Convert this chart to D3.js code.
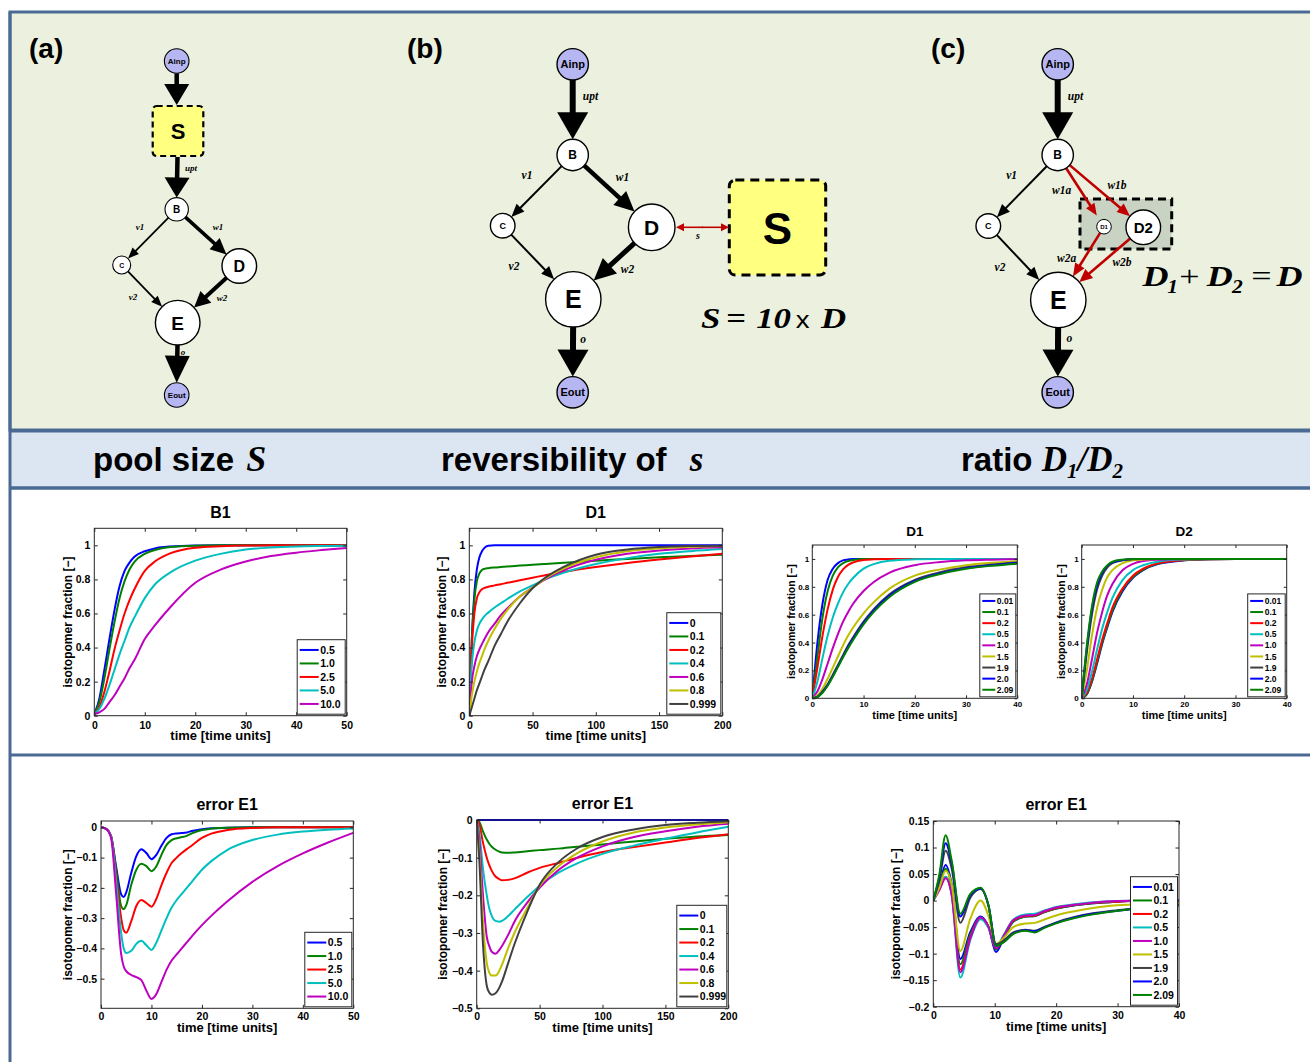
<!DOCTYPE html>
<html><head><meta charset="utf-8">
<script src="https://cdn.jsdelivr.net/npm/d3@7"></script>
<style>body{margin:0;background:#fff}svg{display:block}</style>
</head><body>
<svg id="fig" width="1310" height="1062"></svg>
<script>
// ================= DATA =================
const cBlue="#0000ff", cGreen="#008000", cRed="#ff0000", cCyan="#00bfbf", cMag="#bf00bf", cYel="#bfbf00", cGray="#404040";

// (a) pool size S : B1 labelling
const poolLabels=["0.5","1.0","2.5","5.0","10.0"];
const poolColors=[cBlue,cGreen,cRed,cCyan,cMag];
const b1Time=[0,1,2,3,4,5,6,7,8,10,12,15,20,25,30,35,40,45,50];
const b1_05=[0.01,0.1,0.27,0.45,0.62,0.76,0.85,0.9,0.935,0.965,0.982,0.993,0.999,1,1,1,1,1,1];
const b1_10=[0.01,0.08,0.22,0.39,0.55,0.69,0.79,0.86,0.905,0.95,0.973,0.99,0.998,1,1,1,1,1,1];
const b1_25=[0.01,0.05,0.14,0.26,0.39,0.5,0.6,0.68,0.745,0.85,0.905,0.953,0.986,0.995,0.999,1,1,1,1];
const b1_50=[0.01,0.04,0.1,0.18,0.27,0.36,0.44,0.52,0.58,0.69,0.77,0.84,0.91,0.95,0.975,0.987,0.993,0.996,0.998];
const b1_100=[0.01,0.02,0.04,0.08,0.12,0.17,0.22,0.28,0.33,0.45,0.53,0.635,0.78,0.857,0.905,0.937,0.957,0.972,0.985];

// (a) error E1
const e1aTime=[0,1,2,3,4,4.5,5,6,7,8,9,10,11,12,13,14,15,16,17,18,20,22,25,30,35,40,45,50];
const e1a_05=[0,-0.005,-0.03,-0.13,-0.222,-0.23,-0.215,-0.15,-0.095,-0.072,-0.085,-0.105,-0.09,-0.06,-0.035,-0.023,-0.02,-0.019,-0.017,-0.012,-0.006,-0.003,-0.001,0,0,0,0,0];
const e1a_10=[0,-0.005,-0.03,-0.14,-0.26,-0.27,-0.257,-0.19,-0.14,-0.12,-0.128,-0.145,-0.128,-0.09,-0.058,-0.042,-0.036,-0.032,-0.028,-0.02,-0.009,-0.004,-0.001,0,0,0,0,0];
const e1a_25=[0,-0.005,-0.03,-0.16,-0.3,-0.34,-0.348,-0.31,-0.26,-0.24,-0.25,-0.262,-0.235,-0.19,-0.15,-0.118,-0.1,-0.085,-0.072,-0.06,-0.035,-0.02,-0.009,-0.002,0,0,0,0];
const e1a_50=[0,-0.005,-0.03,-0.18,-0.35,-0.4,-0.415,-0.408,-0.385,-0.375,-0.39,-0.405,-0.38,-0.34,-0.3,-0.265,-0.24,-0.22,-0.2,-0.18,-0.14,-0.11,-0.075,-0.042,-0.024,-0.014,-0.008,-0.004];
const e1a_100=[0,-0.005,-0.035,-0.22,-0.42,-0.46,-0.475,-0.488,-0.495,-0.505,-0.54,-0.567,-0.55,-0.51,-0.47,-0.44,-0.42,-0.4,-0.38,-0.36,-0.323,-0.29,-0.245,-0.18,-0.128,-0.086,-0.05,-0.018];

// (b) reversibility of s
const revLabels=["0","0.1","0.2","0.4","0.6","0.8","0.999"];
const revColors=[cBlue,cGreen,cRed,cCyan,cMag,cYel,cGray];
const d1bTime=[0,2,4,6,8,10,12,15,20,25,30,40,50,60,75,100,125,150,175,200];
const d1b_0=[0,0.45,0.72,0.86,0.93,0.965,0.985,0.997,1,1,1,1,1,1,1,1,1,1,1,1];
const d1b_01=[0,0.45,0.68,0.79,0.835,0.855,0.862,0.866,0.87,0.873,0.876,0.881,0.886,0.891,0.898,0.91,0.92,0.93,0.938,0.945];
const d1b_02=[0,0.4,0.6,0.69,0.725,0.742,0.75,0.757,0.765,0.772,0.78,0.795,0.81,0.825,0.845,0.873,0.897,0.917,0.935,0.95];
const d1b_04=[0,0.3,0.43,0.5,0.54,0.565,0.585,0.605,0.635,0.66,0.685,0.73,0.765,0.8,0.84,0.89,0.925,0.95,0.966,0.978];
const d1b_06=[0,0.2,0.29,0.35,0.39,0.42,0.45,0.49,0.54,0.59,0.63,0.7,0.752,0.8,0.855,0.915,0.95,0.97,0.982,0.989];
const d1b_08=[0,0.12,0.2,0.26,0.31,0.35,0.39,0.44,0.51,0.57,0.62,0.7,0.75,0.805,0.865,0.93,0.965,0.982,0.991,0.996];
const d1b_0999=[0,0.05,0.1,0.15,0.19,0.23,0.27,0.32,0.41,0.48,0.55,0.66,0.748,0.81,0.875,0.945,0.975,0.99,0.996,0.998];

const e1bTime=[0,2,5,8,10,12,15,18,20,25,30,40,50,65,80,100,125,150,175,200];
const e1b_0=[0,0,0,0,0,0,0,0,0,0,0,0,0,0,0,0,0,0,0,0];
const e1b_01=[0,-0.005,-0.03,-0.052,-0.063,-0.071,-0.079,-0.084,-0.086,-0.087,-0.086,-0.083,-0.08,-0.076,-0.071,-0.065,-0.057,-0.05,-0.044,-0.04];
const e1b_02=[0,-0.01,-0.06,-0.1,-0.12,-0.135,-0.15,-0.157,-0.16,-0.159,-0.155,-0.14,-0.127,-0.114,-0.1,-0.085,-0.072,-0.06,-0.048,-0.038];
const e1b_04=[0,-0.03,-0.13,-0.2,-0.235,-0.255,-0.268,-0.27,-0.268,-0.255,-0.238,-0.205,-0.175,-0.14,-0.115,-0.09,-0.068,-0.05,-0.033,-0.018];
const e1b_06=[0,-0.05,-0.2,-0.31,-0.335,-0.35,-0.355,-0.345,-0.335,-0.305,-0.27,-0.22,-0.18,-0.133,-0.1,-0.07,-0.045,-0.03,-0.018,-0.01];
const e1b_08=[0,-0.08,-0.27,-0.38,-0.405,-0.413,-0.413,-0.4,-0.385,-0.34,-0.3,-0.235,-0.175,-0.123,-0.088,-0.057,-0.033,-0.02,-0.012,-0.006];
const e1b_0999=[0,-0.1,-0.33,-0.44,-0.458,-0.464,-0.46,-0.445,-0.43,-0.38,-0.33,-0.245,-0.172,-0.112,-0.075,-0.045,-0.025,-0.013,-0.007,-0.003];

// (c) ratio D1/D2
const ratioLabels=["0.01","0.1","0.2","0.5","1.0","1.5","1.9","2.0","2.09"];
const ratioColors=[cBlue,cGreen,cRed,cCyan,cMag,cYel,cGray,cBlue,cGreen];
const d1cTime=[0,1,2,3,4,5,6,7,8,10,12,15,20,25,30,35,40];
const d1c_001=[0,0.4,0.68,0.85,0.93,0.97,0.99,0.996,1,1,1,1,1,1,1,1,1];
const d1c_01=[0,0.3,0.58,0.77,0.88,0.94,0.97,0.985,0.993,1,1,1,1,1,1,1,1];
const d1c_02=[0,0.22,0.45,0.64,0.78,0.87,0.925,0.957,0.975,0.992,0.997,1,1,1,1,1,1];
const d1c_05=[0,0.12,0.29,0.45,0.58,0.68,0.76,0.82,0.865,0.93,0.963,0.987,0.997,1,1,1,1];
const d1c_10=[0,0.05,0.14,0.25,0.36,0.46,0.55,0.62,0.68,0.77,0.835,0.9,0.955,0.978,0.99,0.995,0.998];
const d1c_15=[0,0.02,0.07,0.14,0.22,0.3,0.38,0.45,0.51,0.61,0.69,0.785,0.88,0.925,0.955,0.972,0.984];
const d1c_19=[0,0.01,0.05,0.1,0.17,0.24,0.31,0.38,0.44,0.55,0.64,0.745,0.85,0.905,0.94,0.96,0.975];
const d1c_20=[0,0.01,0.045,0.095,0.16,0.23,0.3,0.37,0.43,0.54,0.63,0.735,0.842,0.898,0.934,0.955,0.97];
const d1c_209=[0,0.01,0.04,0.09,0.155,0.225,0.295,0.36,0.42,0.53,0.62,0.725,0.835,0.892,0.929,0.951,0.966];

const d2cTime=[0,1,2,3,4,5,6,8,10,12,15,20,25,30,40];
const d2c_001=[0,0.03,0.12,0.25,0.39,0.51,0.62,0.77,0.865,0.92,0.965,0.99,0.998,1,1];
const d2c_01=[0,0.03,0.125,0.26,0.4,0.52,0.63,0.78,0.87,0.924,0.967,0.991,0.998,1,1];
const d2c_02=[0,0.04,0.14,0.28,0.42,0.54,0.65,0.79,0.88,0.93,0.97,0.992,0.998,1,1];
const d2c_05=[0,0.06,0.19,0.35,0.5,0.62,0.72,0.85,0.92,0.955,0.982,0.996,1,1,1];
const d2c_10=[0,0.1,0.28,0.47,0.62,0.74,0.82,0.92,0.965,0.985,0.995,1,1,1,1];
const d2c_15=[0,0.2,0.45,0.65,0.78,0.87,0.92,0.97,0.99,0.996,1,1,1,1,1];
const d2c_19=[0,0.33,0.6,0.78,0.88,0.94,0.97,0.99,0.998,1,1,1,1,1,1];
const d2c_20=[0,0.36,0.64,0.81,0.9,0.95,0.975,0.993,1,1,1,1,1,1,1];
const d2c_209=[0,0.38,0.66,0.83,0.91,0.955,0.98,0.995,1,1,1,1,1,1,1];

const e1cTime=[0,1,2,3,4.4,6,7.7,9,10.2,11.5,13,15,16.5,18,20,23,26,30,35,40];
const e1c_001=[0,0.03,0.067,0.03,-0.11,-0.06,-0.03,-0.05,-0.097,-0.07,-0.04,-0.03,-0.029,-0.022,-0.015,-0.009,-0.005,-0.002,0,0];
const e1c_01=[0,0.028,0.06,0.025,-0.12,-0.065,-0.032,-0.05,-0.092,-0.068,-0.04,-0.03,-0.029,-0.022,-0.015,-0.009,-0.005,-0.002,0,0];
const e1c_02=[0,0.022,0.045,0.012,-0.13,-0.07,-0.033,-0.05,-0.09,-0.066,-0.038,-0.029,-0.028,-0.021,-0.014,-0.008,-0.004,-0.002,0,0];
const e1c_05=[0,0.022,0.045,0.01,-0.145,-0.075,-0.035,-0.052,-0.088,-0.064,-0.036,-0.026,-0.025,-0.019,-0.012,-0.007,-0.003,-0.001,0,0];
const e1c_10=[0,0.02,0.042,0.01,-0.135,-0.072,-0.032,-0.05,-0.09,-0.066,-0.037,-0.028,-0.027,-0.02,-0.013,-0.008,-0.004,-0.001,0,0];
const e1c_15=[0,0.025,0.056,0.03,-0.095,-0.035,0,-0.03,-0.082,-0.07,-0.05,-0.043,-0.042,-0.036,-0.028,-0.02,-0.014,-0.009,-0.006,-0.004];
const e1c_19=[0,0.04,0.094,0.06,-0.042,0.005,0.022,-0.01,-0.082,-0.075,-0.06,-0.055,-0.057,-0.05,-0.041,-0.031,-0.024,-0.018,-0.012,-0.008];
const e1c_20=[0,0.045,0.108,0.07,-0.03,0.01,0.023,-0.01,-0.085,-0.078,-0.062,-0.056,-0.058,-0.051,-0.042,-0.032,-0.025,-0.019,-0.013,-0.009];
const e1c_209=[0,0.05,0.123,0.075,-0.025,0.012,0.024,-0.01,-0.085,-0.078,-0.063,-0.057,-0.06,-0.052,-0.043,-0.033,-0.026,-0.019,-0.013,-0.009];

// tick values
const ticks50=[0,10,20,30,40,50], ticks200=[0,50,100,150,200], ticks40=[0,10,20,30,40];
const ticksFrac=[0,0.2,0.4,0.6,0.8,1];
const ticksErrA=[-0.5,-0.4,-0.3,-0.2,-0.1,0], ticksErrB=[-0.5,-0.4,-0.3,-0.2,-0.1,0];
const ticksErrC=[-0.2,-0.15,-0.1,-0.05,0,0.05,0.1,0.15];

// ================= DRAWING =================
const svg=d3.select("#fig");
const sans="'Liberation Sans', Arial, Helvetica, sans-serif";
const serif="'Liberation Serif', 'Times New Roman', serif";
const borderCol="#4a6a93";

// ---- background panels ----
svg.append("rect").attr("x",0).attr("y",0).attr("width",1310).attr("height",1062).attr("fill","#fff");
svg.append("rect").attr("x",10).attr("y",12).attr("width",1310).attr("height",418).attr("fill","#ebf1de").attr("stroke",borderCol).attr("stroke-width",3);
svg.append("rect").attr("x",10).attr("y",431).attr("width",1310).attr("height",57).attr("fill","#dce6f2");
svg.append("line").attr("x1",10).attr("x2",1310).attr("y1",431).attr("y2",431).attr("stroke",borderCol).attr("stroke-width",3);
svg.append("line").attr("x1",10).attr("x2",1310).attr("y1",488).attr("y2",488).attr("stroke",borderCol).attr("stroke-width",3.5);
svg.append("line").attr("x1",10).attr("x2",1310).attr("y1",755).attr("y2",755).attr("stroke",borderCol).attr("stroke-width",3);
svg.append("line").attr("x1",10).attr("x2",10).attr("y1",12).attr("y2",1062).attr("stroke",borderCol).attr("stroke-width",3);

// ---- header ----
function header(x,parts){
  const t=svg.append("text").attr("x",x).attr("y",471).attr("fill","#000");
  parts.forEach(p=>{
    const s=t.append("tspan").text(p.t).attr("font-family",p.serif?serif:sans).attr("font-weight","bold")
      .attr("font-style",p.serif?"italic":"normal").attr("font-size",p.fs||33);
    if(p.dy) s.attr("dy",p.dy);
    if(p.dx) s.attr("dx",p.dx);
  });
}
header(93,[{t:"pool size "},{t:"S",serif:true,fs:36,dx:3}]);
header(441,[{t:"reversibility of "},{t:"s",serif:true,fs:35,dx:14}]);
header(961,[{t:"ratio "},{t:"D",serif:true,fs:35},{t:"1",serif:true,fs:21,dy:7},{t:"/",serif:true,fs:35,dy:-7},{t:"D",serif:true,fs:35},{t:"2",serif:true,fs:21,dy:7}]);

// ---- diagrams ----
const dg=svg.append("g");
function panelLabel(x,t){dg.append("text").attr("x",x).attr("y",58).attr("font-family",sans).attr("font-weight","bold").attr("font-size",28).text(t);}
panelLabel(29,"(a)");panelLabel(407,"(b)");panelLabel(931,"(c)");

function node(n){
  dg.append("circle").attr("cx",n.x).attr("cy",n.y).attr("r",n.r).attr("fill",n.fill||"#fff").attr("stroke","#000").attr("stroke-width",n.sw||1.4);
  dg.append("text").attr("x",n.x).attr("y",n.y).attr("dy","0.36em").attr("text-anchor","middle").attr("font-family",sans)
    .attr("font-weight","bold").attr("font-size",n.fs).text(n.label);
}
function arrowPts(x1,y1,x2,y2,sw,hl,hw,col){
  const dx=x2-x1,dy=y2-y1,L=Math.hypot(dx,dy),ux=dx/L,uy=dy/L;
  const bx=x2-ux*hl,by=y2-uy*hl,nx=-uy,ny=ux;
  dg.append("line").attr("x1",x1).attr("y1",y1).attr("x2",bx+ux*1.5).attr("y2",by+uy*1.5).attr("stroke",col).attr("stroke-width",sw);
  dg.append("path").attr("d",`M${x2},${y2}L${bx+nx*hw/2},${by+ny*hw/2}L${bx-nx*hw/2},${by-ny*hw/2}Z`).attr("fill",col);
}
function edge(a,b,sw,hl,hw,col,g0,g1){
  const dx=b.x-a.x,dy=b.y-a.y,L=Math.hypot(dx,dy),ux=dx/L,uy=dy/L;
  const s0=a.r+(g0||0), s1=b.r+(g1||0);
  arrowPts(a.x+ux*s0,a.y+uy*s0,b.x-ux*s1,b.y-uy*s1,sw,hl,hw,col||"#000");
}
function elabel(x,y,t,fs){dg.append("text").attr("x",x).attr("y",y).attr("dy","0.35em").attr("text-anchor","middle").attr("font-family",serif)
  .attr("font-weight","bold").attr("font-style","italic").attr("font-size",fs).text(t);}
// equation pieces, in a horizontally stretched frame
function eqn(x0,y0,pieces){
  const g=dg.append("g").attr("transform",`translate(${x0},${y0}) scale(1.2,1)`);
  pieces.forEach(p=>{
    g.append("text").attr("x",p.x).attr("y",p.dy||0).attr("font-family",p.sans?sans:serif)
      .attr("font-weight",p.w||"bold").attr("font-style",p.it?"italic":"normal").attr("font-size",p.fs).text(p.t);
  });
}
const lav="#b6b6f2", yel="#ffff80";

// panel (a)
{
  const Ainp={x:176.7,y:61,r:12.3,fill:lav,label:"Ainp",fs:8,sw:1.1};
  const B={x:176.7,y:209.3,r:11.7,label:"B",fs:10,sw:1.1};
  const C={x:121.7,y:265,r:9,label:"C",fs:7,sw:1.1};
  const D={x:239.3,y:266,r:17.3,label:"D",fs:16};
  const E={x:177.7,y:322.7,r:22.3,label:"E",fs:19};
  const Eout={x:176.7,y:395,r:12.3,fill:lav,label:"Eout",fs:8,sw:1.1};
  dg.append("rect").attr("x",152.7).attr("y",106).attr("width",50.6).attr("height",50).attr("rx",4).attr("fill",yel)
    .attr("stroke","#000").attr("stroke-width",2.2).attr("stroke-dasharray","6,4");
  dg.append("text").attr("x",178).attr("y",131).attr("dy","0.36em").attr("text-anchor","middle").attr("font-family",sans).attr("font-weight","bold").attr("font-size",22).text("S");
  arrowPts(176.7,73.3,176.7,105,4.5,21,25,"#000");
  arrowPts(177.5,157,176.7,197.6,4.5,20,25,"#000");
  edge(B,C,1.8,11,9);
  edge(B,D,3.5,16,15);
  edge(C,E,1.8,11,9);
  edge(D,E,4,16,16);
  arrowPts(177.5,345,176.7,382.7,4.5,27,25,"#000");
  [Ainp,B,C,D,E,Eout].forEach(node);
  elabel(191,168,"upt",9);elabel(140,227,"v1",9);elabel(218,227,"w1",9);elabel(133,297,"v2",9);elabel(222,298,"w2",9);elabel(183,352,"o",9);
}
// panel (b)
{
  const Ainp={x:572.7,y:64.3,r:15.7,fill:lav,label:"Ainp",fs:11};
  const B={x:572.7,y:155,r:15.7,label:"B",fs:12};
  const C={x:502.7,y:225.7,r:12.3,label:"C",fs:9};
  const D={x:651.7,y:227.3,r:23.3,label:"D",fs:21};
  const E={x:573.3,y:299.3,r:27.7,label:"E",fs:25};
  const Eout={x:572.7,y:392.3,r:15.7,fill:lav,label:"Eout",fs:11};
  dg.append("rect").attr("x",729.3).attr("y",180).attr("width",96.4).attr("height",95).attr("rx",6).attr("fill",yel)
    .attr("stroke","#000").attr("stroke-width",3).attr("stroke-dasharray","9,6");
  dg.append("text").attr("x",777.5).attr("y",228).attr("dy","0.36em").attr("text-anchor","middle").attr("font-family",sans).attr("font-weight","bold").attr("font-size",44).text("S");
  edge(Ainp,B,6,27,31);
  edge(B,C,2,13,11);
  edge(B,D,4.5,20,19);
  edge(C,E,2,13,11);
  edge(D,E,5,22,21);
  edge(E,Eout,6,27,31);
  arrowPts(702,227.3,729,227.3,1.6,8,8,"#c00000");
  arrowPts(703,227.3,676,227.3,1.6,8,8,"#c00000");
  [Ainp,B,C,D,E,Eout].forEach(node);
  elabel(590.5,96,"upt",11.5);elabel(527,175,"v1",11.5);elabel(622.5,176.7,"w1",11.5);elabel(514,266,"v2",11.5);elabel(627.5,269,"w2",11.5);elabel(583,339,"o",11.5);elabel(698,235,"s",10);
  eqn(701,328,[
    {t:"S",x:0,fs:29,it:true},
    {t:"=",x:21,fs:29},
    {t:"10",x:46,fs:29,it:true},
    {t:"x",x:79,fs:23,sans:true,w:"normal"},
    {t:"D",x:100,fs:29,it:true}
  ]);
}
// panel (c)
{
  const Ainp={x:1057.7,y:64.3,r:15.7,fill:lav,label:"Ainp",fs:11};
  const B={x:1057.7,y:155,r:15.7,label:"B",fs:12};
  const C={x:988.3,y:226,r:12.3,label:"C",fs:9};
  const D1={x:1104,y:226.7,r:7.3,label:"D1",fs:6,sw:1};
  const D2={x:1143.3,y:227.3,r:17.3,label:"D2",fs:15};
  const E={x:1058.3,y:300,r:27.7,label:"E",fs:25};
  const Eout={x:1057.7,y:392.3,r:15.7,fill:lav,label:"Eout",fs:11};
  dg.append("rect").attr("x",1080).attr("y",199).attr("width",91.7).attr("height",50).attr("fill","#c9d3c3")
    .attr("stroke","#000").attr("stroke-width",3).attr("stroke-dasharray","8,5");
  edge(Ainp,B,6,27,31);
  edge(B,C,2,13,11);
  edge(C,E,2,13,11);
  edge(E,Eout,6,27,31);
  const red="#c00000";
  edge(B,D1,2.6,12,10,red,0,6);
  edge(B,D2,2.6,13,11,red,0,0);
  edge(D1,E,2.6,13,11,red,0,0);
  edge(D2,E,2.6,13,12,red,0,0);
  [Ainp,B,C,D1,D2,E,Eout].forEach(node);
  elabel(1075.5,96,"upt",11.5);elabel(1011.7,175,"v1",11.5);elabel(1061.7,190,"w1a",11.5);elabel(1117,185,"w1b",11.5);
  elabel(1000,266.7,"v2",11.5);elabel(1066.7,258.3,"w2a",11.5);elabel(1122,262.3,"w2b",11.5);elabel(1069.3,338,"o",11.5);
  eqn(1142,286,[
    {t:"D",x:0.5,fs:30,it:true},
    {t:"1",x:21,fs:18,it:true,dy:7},
    {t:"+",x:31,fs:30,w:"normal"},
    {t:"D",x:54,fs:30,it:true},
    {t:"2",x:75,fs:18,it:true,dy:7},
    {t:"=",x:91,fs:30,w:"normal"},
    {t:"D",x:112,fs:30,it:true}
  ]);
}

// ---- charts ----
let clipN=0;
function drawChart(c){
  const g=svg.append("g");
  const x=d3.scaleLinear().domain(c.xDomain).range([c.L,c.R]);
  const y=d3.scaleLinear().domain(c.yDomain).range([c.B,c.T]);
  const cid="clip"+(clipN++);
  svg.append("defs").append("clipPath").attr("id",cid).append("rect").attr("x",c.L).attr("y",c.T-1).attr("width",c.R-c.L+(c.overX||0)).attr("height",c.B-c.T+2);
  g.append("rect").attr("x",c.L).attr("y",c.T).attr("width",c.R-c.L).attr("height",c.B-c.T).attr("fill","#fff");
  const line=d3.line().x((d,i)=>x(c.time[i])).y(d=>y(d)).curve(d3.curveMonotoneX);
  c.series.forEach(s=>{
    g.append("path").attr("d",line(s.values)).attr("fill","none").attr("stroke",s.color).attr("stroke-width",c.lw)
      .attr("stroke-linejoin","round").attr("clip-path",`url(#${cid})`);
  });
  const fmt=v=>{const s=(Math.abs(v)<1e-9)?"0":String(+v.toFixed(3));return s.replace("-","\u2212");};
  const tk=c.tick||3.5;
  const ax=(axis,tr,labels)=>{
    const a=g.append("g").attr("transform",tr).call(axis);
    a.select(".domain").remove();
    a.selectAll(".tick line").attr("stroke","#262626");
    if(!labels) a.selectAll("text").remove();
    else a.selectAll("text").attr("font-family",sans).attr("font-weight","bold").attr("font-size",c.tickFs).attr("fill","#000");
  };
  ax(d3.axisBottom(x).tickValues(c.xTicks).tickFormat(fmt).tickSizeInner(-tk).tickSizeOuter(0).tickPadding(c.xPad),`translate(0,${c.B})`,true);
  ax(d3.axisTop(x).tickValues(c.xTicks).tickSizeInner(-tk).tickSizeOuter(0),`translate(0,${c.T})`,false);
  ax(d3.axisLeft(y).tickValues(c.yTicks).tickFormat(fmt).tickSizeInner(-tk).tickSizeOuter(0).tickPadding(c.yPad),`translate(${c.L},0)`,true);
  ax(d3.axisRight(y).tickValues(c.yTicks).tickSizeInner(-tk).tickSizeOuter(0),`translate(${c.R},0)`,false);
  g.append("rect").attr("x",c.L).attr("y",c.T).attr("width",c.R-c.L).attr("height",c.B-c.T).attr("fill","none").attr("stroke","#262626").attr("stroke-width",1);
  g.append("text").attr("x",(c.L+c.R)/2).attr("y",c.T-c.titleGap).attr("text-anchor","middle").attr("font-family",sans).attr("font-weight","bold").attr("font-size",c.titleFs).text(c.title);
  g.append("text").attr("x",(c.L+c.R)/2).attr("y",c.B+c.xlabGap).attr("text-anchor","middle").attr("font-family",sans).attr("font-weight","bold").attr("font-size",c.xlabFs).text("time [time units]");
  g.append("text").attr("transform",`translate(${c.L-c.ylabOff},${(c.T+c.B)/2}) rotate(-90)`).attr("dy","0.35em").attr("text-anchor","middle")
    .attr("font-family",sans).attr("font-weight","bold").attr("font-size",c.ylabFs).text("isotopomer fraction [\u2212]");
  const lg=c.legend,n=c.series.length,bw=lg.w,bh=n*lg.row+2*lg.pad;
  const bx=c.R-lg.inset-bw,by=c.B-lg.inset-bh;
  g.append("rect").attr("x",bx).attr("y",by).attr("width",bw).attr("height",bh).attr("fill","#fff").attr("stroke","#262626").attr("stroke-width",1);
  c.series.forEach((s,i)=>{
    const cy=by+lg.pad+lg.row*(i+0.5);
    g.append("line").attr("x1",bx+lg.x0).attr("x2",bx+lg.x0+lg.len).attr("y1",cy).attr("y2",cy).attr("stroke",s.color).attr("stroke-width",c.lw);
    g.append("text").attr("x",bx+lg.x0+lg.len+lg.gap).attr("y",cy).attr("dy","0.36em").attr("font-family",sans).attr("font-weight","bold").attr("font-size",lg.fs).text(s.label);
  });
}
const mk=(labels,colors,arrs)=>labels.map((l,i)=>({label:l,color:colors[i],values:arrs[i]}));
const bigLeg=(w)=>({w:w,row:13.5,pad:3.5,inset:1.5,x0:2.5,len:19,gap:1.5,fs:10.5});
const smallLeg=(w)=>({w:w,row:11.1,pad:1.5,inset:1.5,x0:2.5,len:13,gap:1.5,fs:8.5});
const bigStyle={lw:2,titleFs:16,tickFs:10.5,xPad:5.5,yPad:4,xlabFs:13,ylabFs:12,xlabGap:24.5};
const smallStyle={lw:2,titleFs:13.5,tickFs:8,xPad:3.5,yPad:3,xlabFs:11,ylabFs:10.5,xlabGap:20.7,titleGap:9.3,tick:3};

drawChart(Object.assign({},bigStyle,{L:94.3,R:346.7,T:528.3,B:715.7,xDomain:[0,50],yDomain:[0,1.1],xTicks:ticks50,yTicks:ticksFrac,
  title:"B1",titleGap:10.5,ylabOff:26.3,time:b1Time,series:mk(poolLabels,poolColors,[b1_05,b1_10,b1_25,b1_50,b1_100]),legend:bigLeg(48)}));
drawChart(Object.assign({},bigStyle,{L:469.3,R:722.3,T:528.3,B:715.7,xDomain:[0,200],yDomain:[0,1.1],xTicks:ticks200,yTicks:ticksFrac,
  title:"D1",titleGap:10.5,ylabOff:27.6,time:d1bTime,series:mk(revLabels,revColors,[d1b_0,d1b_01,d1b_02,d1b_04,d1b_06,d1b_08,d1b_0999]),legend:bigLeg(54)}));
drawChart(Object.assign({},smallStyle,{L:812.3,R:1017.3,T:545,B:698.3,xDomain:[0,40],yDomain:[0,1.1],xTicks:ticks40,yTicks:ticksFrac,
  title:"D1",ylabOff:20.6,time:d1cTime,series:mk(ratioLabels,ratioColors,[d1c_001,d1c_01,d1c_02,d1c_05,d1c_10,d1c_15,d1c_19,d1c_20,d1c_209]),legend:smallLeg(36)}));
drawChart(Object.assign({},smallStyle,{L:1081.7,R:1286.7,T:545,B:698.3,xDomain:[0,40],yDomain:[0,1.1],xTicks:ticks40,yTicks:ticksFrac,
  title:"D2",ylabOff:20,time:d2cTime,series:mk(ratioLabels,ratioColors,[d2c_001,d2c_01,d2c_02,d2c_05,d2c_10,d2c_15,d2c_19,d2c_20,d2c_209]),legend:smallLeg(37.5)}));
drawChart(Object.assign({},bigStyle,{L:101,R:353.3,T:821,B:1008.3,xDomain:[0,50],yDomain:[-0.598,0.021],xTicks:ticks50,yTicks:ticksErrA,
  title:"error E1",titleGap:11,xPad:4.5,xlabGap:24,ylabOff:33,time:e1aTime,series:mk(poolLabels,poolColors,[e1a_05,e1a_10,e1a_25,e1a_50,e1a_100]),legend:bigLeg(47)}));
drawChart(Object.assign({},bigStyle,{L:476.7,R:728.3,T:820,B:1008.3,xDomain:[0,200],yDomain:[-0.5,0],xTicks:ticks200,yTicks:ticksErrB,
  title:"error E1",titleGap:11,xPad:4.5,xlabGap:24,ylabOff:33.7,time:e1bTime,series:mk(revLabels,revColors,[e1b_0,e1b_01,e1b_02,e1b_04,e1b_06,e1b_08,e1b_0999]),legend:bigLeg(50)}));
drawChart(Object.assign({},bigStyle,{L:933.3,R:1179,T:821,B:1006.7,xDomain:[0,40],yDomain:[-0.2,0.15],xTicks:ticks40,yTicks:ticksErrC,
  title:"error E1",titleGap:11,xPad:4.5,xlabGap:24,ylabOff:38,time:e1cTime,series:mk(ratioLabels,ratioColors,[e1c_001,e1c_01,e1c_02,e1c_05,e1c_10,e1c_15,e1c_19,e1c_20,e1c_209]),legend:bigLeg(47)}));
</script>
</body></html>
